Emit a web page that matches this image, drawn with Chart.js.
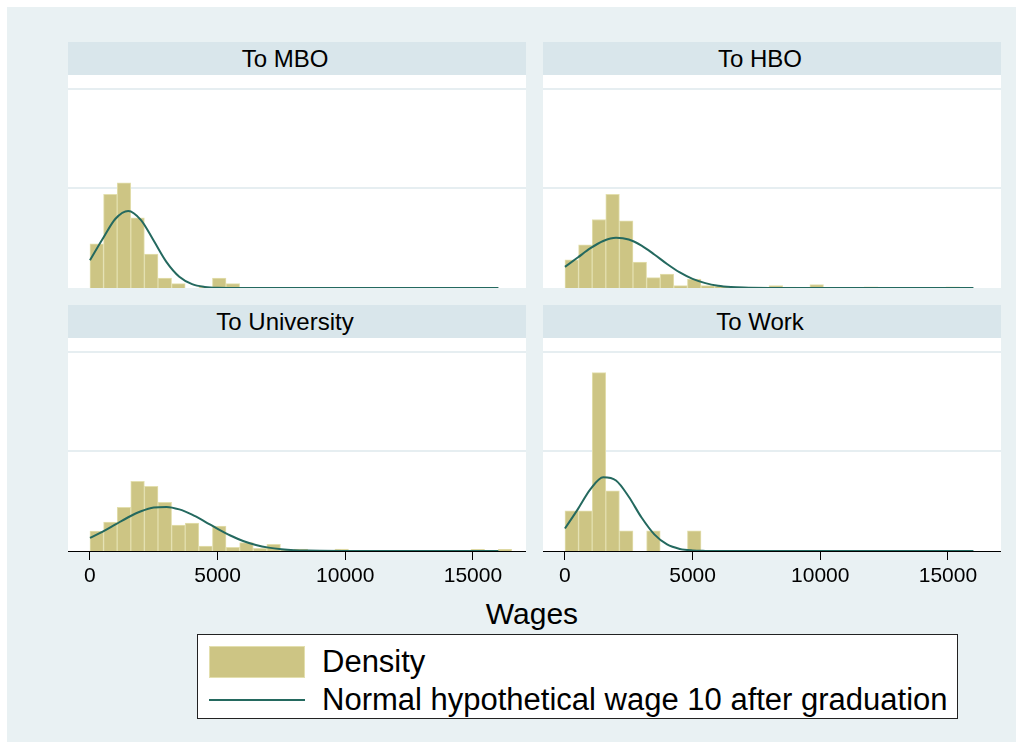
<!DOCTYPE html>
<html>
<head>
<meta charset="utf-8">
<title>Wages by destination</title>
<script src="https://cdn.jsdelivr.net/npm/chart.js@4.4.1/dist/chart.umd.min.js"></script>
<style>
  body { margin: 0; background: #fff; font-family: "Liberation Sans", Arial, sans-serif; }
  #frame { position: absolute; left: 7px; top: 7px; width: 1009px; height: 735px; background: #e9f1f3; }
  .strip { position: absolute; width: 434px; padding-right: 24px; height: 33px; line-height: 33px; background: #d9e6eb;
           text-align: center; font-size: 24px; color: #000; }
  .plotbg { position: absolute; width: 458px; height: 213px; background: #fff; }
  canvas { position: absolute; }
  #xtitle { position: absolute; left: 0; width: 1064px; top: 597px; text-align: center; font-size: 30px; }
  #legend { position: absolute; left: 197px; top: 634px; width: 759px; height: 83px; background: #fff;
            border: 1px solid #222; }
  .swatch { position: absolute; left: 11px; top: 11px; width: 94px; height: 30px; background: #cdc584;
            border: 1px solid #e3dfae; }
  .lineswatch { position: absolute; left: 11px; top: 64px; width: 96px; height: 2px; background: #24695f; }
  .ltext { position: absolute; left: 124px; font-size: 31px; line-height: 34px; }
</style>
</head>
<body>
<div id="frame"></div>
<div id="panels"></div>
<div id="xtitle">Wages</div>
<div id="legend">
  <div class="swatch"></div>
  <div class="ltext" style="top: 10px;">Density</div>
  <div class="lineswatch"></div>
  <div class="ltext" style="top: 48px;">Normal hypothetical wage 10 after graduation</div>
</div>
<script>
// histogram bins (same for every panel)
const binStart = 0;
const binWidth = 533;

// bar heights, density in units of 0.0001, one value per bin
const mboBars = [2.22, 4.70, 5.28, 3.52, 1.70, 0.50, 0.22, 0, 0.05, 0.50, 0.22];
const hboBars = [1.42, 2.17, 3.44, 4.70, 3.37, 1.30, 0.52, 0.70, 0.12, 0.45, 0.12, 0.085, 0.04, 0.04, 0.04,
                 0.12, 0.05, 0, 0.17, 0, 0, 0, 0.065, 0, 0, 0, 0, 0, 0.065];
const uniBars = [1.00, 1.45, 2.20, 3.50, 3.25, 2.45, 1.30, 1.40, 0.25, 1.25, 0.185, 0.42, 0.135, 0.335, 0.05,
                 0.10, 0, 0, 0.10, 0, 0, 0, 0, 0, 0, 0, 0, 0, 0.085, 0, 0.085];
const workBars = [2.02, 2.02, 8.96, 3.02, 1.01, 0, 1.01, 0, 0, 1.01];

// normal curves: wage points and density (units of 0.0001)
const mboCurveX = [0, 500, 1000, 1500, 2000, 2500, 3000, 3500, 4000, 4500, 5000, 6000, 16000];
const mboCurve = [1.39, 2.47, 3.48, 3.87, 3.41, 2.37, 1.30, 0.565, 0.195, 0.055, 0.012, 0, 0];
const hboCurveX = [0, 500, 1000, 1500, 2000, 2500, 3000, 3500, 4000, 4500, 5000, 5500, 6000, 6500, 7000, 8000, 9000, 16000];
const hboCurve = [1.06, 1.53, 2.00, 2.36, 2.52, 2.435, 2.13, 1.685, 1.205, 0.78, 0.455, 0.245, 0.115, 0.05, 0.02, 0.002, 0, 0];
const uniCurveX = [0, 500, 1000, 1500, 2000, 2500, 3000, 3500, 4000, 4500, 5000, 5500, 6000, 6500, 7000, 7500, 8000, 8500, 9000, 10000, 11000, 16000];
const uniCurve = [0.66, 0.975, 1.335, 1.695, 1.995, 2.185, 2.215, 2.09, 1.825, 1.48, 1.115, 0.78, 0.505, 0.305, 0.17,
                  0.09, 0.0425, 0.019, 0.008, 0.0015, 0, 0];
const workCurveX = [0, 500, 1000, 1500, 2000, 2500, 3000, 3500, 4000, 4500, 5000, 5500, 6000, 16000];
const workCurve = [1.13, 2.09, 3.105, 3.70, 3.54, 2.725, 1.68, 0.835, 0.33, 0.105, 0.027, 0.005, 0, 0];

const xTicks = [0, 5000, 10000, 15000];
const yGrid = [0.0005, 0.001];

const xMin = -860, xMax = 17080;
const yMax = 0.00107;
const barColor = '#cdc584';
const barEdge = '#e3dfae';
const curveColor = '#24695f';

const panels = [
    { title: 'To MBO', left: 68, top: 75, bars: mboBars, cx: mboCurveX, cy: mboCurve, axis: false },
    { title: 'To HBO', left: 543, top: 75, bars: hboBars, cx: hboCurveX, cy: hboCurve, axis: false },
    { title: 'To University', left: 68, top: 338, bars: uniBars, cx: uniCurveX, cy: uniCurve, axis: true },
    { title: 'To Work', left: 543, top: 338, bars: workBars, cx: workCurveX, cy: workCurve, axis: true }
];

const holder = document.getElementById('panels');
const axisHeight = 45;

panels.forEach(p => {
    const strip = document.createElement('div');
    strip.className = 'strip';
    strip.style.left = p.left + 'px';
    strip.style.top = (p.top - 33) + 'px';
    strip.textContent = p.title;
    holder.appendChild(strip);

    const bg = document.createElement('div');
    bg.className = 'plotbg';
    bg.style.left = p.left + 'px';
    bg.style.top = p.top + 'px';
    holder.appendChild(bg);

    const canvas = document.createElement('canvas');
    canvas.width = 458;
    canvas.height = 213 + (p.axis ? axisHeight : 0);
    canvas.style.left = p.left + 'px';
    canvas.style.top = p.top + 'px';
    holder.appendChild(canvas);

    const barPoints = p.bars.map((v, i) => ({ x: binStart + (i + 0.5) * binWidth, y: v * 1e-4 }));
    const curvePoints = p.cx.map((x, i) => ({ x: x, y: p.cy[i] * 1e-4 }));

    new Chart(canvas, {
        type: 'bar',
        data: {
            datasets: [
                {
                    type: 'line',
                    data: curvePoints,
                    borderColor: curveColor,
                    borderWidth: 2,
                    pointRadius: 0,
                    cubicInterpolationMode: 'monotone',
                    order: 0
                },
                {
                    type: 'bar',
                    data: barPoints,
                    backgroundColor: barColor,
                    borderColor: barEdge,
                    borderWidth: 1,
                    barPercentage: 1,
                    categoryPercentage: 1,
                    order: 1
                }
            ]
        },
        options: {
            responsive: false,
            animation: false,
            devicePixelRatio: 1,
            layout: { padding: 0 },
            plugins: { legend: { display: false }, tooltip: { enabled: false } },
            scales: {
                x: {
                    type: 'linear',
                    min: xMin,
                    max: xMax,
                    offset: false,
                    display: p.axis,
                    afterBuildTicks: s => { s.ticks = xTicks.map(v => ({ value: v })); },
                    afterFit: s => { s.height = p.axis ? axisHeight : 0; },
                    border: { display: true, color: '#000', width: 1 },
                    grid: { offset: false, drawOnChartArea: false, drawTicks: true, tickLength: 9, color: '#000', tickColor: '#000' },
                    ticks: {
                        color: '#000',
                        padding: 4,
                        maxRotation: 0,
                        font: { family: '"Liberation Sans", Arial, sans-serif', size: 21 },
                        callback: v => String(v)
                    }
                },
                y: {
                    min: 0,
                    max: yMax,
                    afterBuildTicks: s => { s.ticks = yGrid.map(v => ({ value: v })); },
                    afterFit: s => { s.width = 0; },
                    border: { display: false },
                    grid: { color: '#e6eef1', lineWidth: 2, drawTicks: false },
                    ticks: { display: false }
                }
            }
        }
    });
});
</script>
</body>
</html>
